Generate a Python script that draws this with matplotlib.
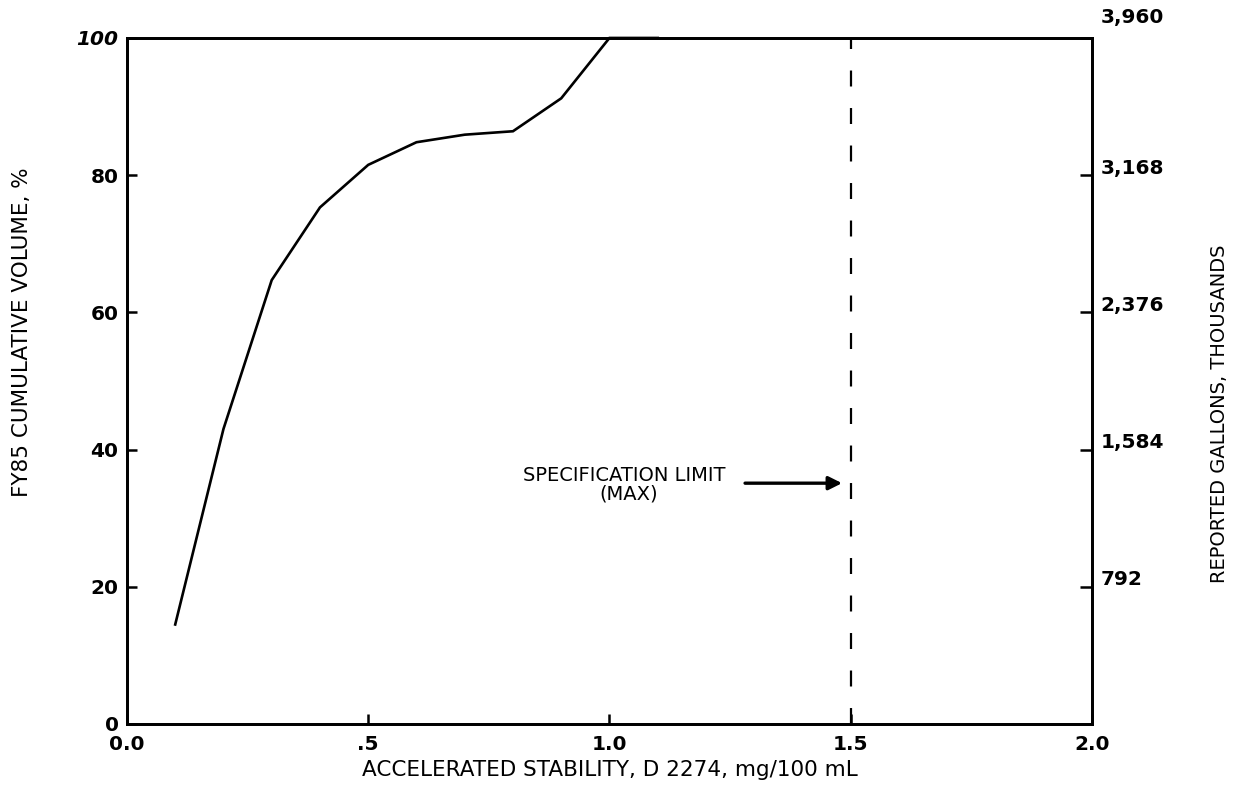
import matplotlib
matplotlib.use("Agg")
import matplotlib.pyplot as plt
import matplotlib.transforms as mtransforms

# ---- data ----
stability = [0.1, 0.2, 0.3, 0.4, 0.5, 0.6, 0.7, 0.8, 0.9, 1.0, 1.1]
cum_volume_pct = [14.5, 43.0, 64.7, 75.3, 81.5, 84.8, 85.9, 86.4, 91.2, 100.0, 100.0]
spec_limit = 1.5
left_ticks = [0, 20, 40, 60, 80, 100]
right_ticks = [792, 1584, 2376, 3168, 3960]
right_max = 3960
x_ticks = [0.0, 0.5, 1.0, 1.5, 2.0]
x_ticklabels = ["0.0", ".5", "1.0", "1.5", "2.0"]

plt.rcParams['font.family'] = ['DejaVu Sans']

fig = plt.figure(figsize=(12.35, 7.94), dpi=100)
ax = fig.add_axes([0.1028, 0.0882, 0.7814, 0.8640])

ax.plot(stability, cum_volume_pct, color='black', lw=1.9, clip_on=False,
        solid_joinstyle='miter')
lw_d = 1.6
ax.axvline(spec_limit, color='black', lw=lw_d,
           linestyle=(0, (11.5 / lw_d, 15.5 / lw_d)))

ax.set_xlim(0, 2.0)
ax.set_ylim(0, 100)
ax.set_xticks(x_ticks)
ax.set_xticklabels(x_ticklabels, fontweight='bold')
ax.set_yticks(left_ticks)
ax.set_yticklabels([str(t) for t in left_ticks], fontweight='bold')
ylabs = ax.get_yticklabels()
ylabs[-1].set_style('italic')
ylabs[-1].set_transform(ylabs[-1].get_transform() +
                        mtransforms.ScaledTranslation(0, 5 / 72, fig.dpi_scale_trans))
ylabs[0].set_transform(ylabs[0].get_transform() +
                       mtransforms.ScaledTranslation(0, 4 / 72, fig.dpi_scale_trans))

for s in ax.spines.values():
    s.set_linewidth(2.0)

ax.tick_params(axis='both', direction='in', length=7, width=1.8,
               labelsize=14.5, pad=6)
ax.tick_params(axis='x', pad=8)

ax.set_xlabel("ACCELERATED STABILITY, D 2274, mg/100 mL", fontsize=15.5, labelpad=4)
ax.set_ylabel("FY85 CUMULATIVE VOLUME, %", fontsize=15.5, labelpad=32)
ax.yaxis.label.set_y(0.571)

ax2 = ax.twinx()
ax2.set_ylim(0, right_max)
ax2.set_yticks(right_ticks)
ax2.set_yticklabels([f"{t:,}" for t in right_ticks], fontweight='bold')
ax2.tick_params(axis='y', direction='in', length=9, width=1.8,
                labelsize=14.5, pad=6)
for s in ax2.spines.values():
    s.set_linewidth(2.0)
rlabs = ax2.get_yticklabels()
for i, lab in enumerate(rlabs):
    dy = 16.5 if i == len(rlabs) - 1 else 6.5
    lab.set_transform(lab.get_transform() +
                      mtransforms.ScaledTranslation(0, dy / 72, fig.dpi_scale_trans))
ax2.set_ylabel("REPORTED GALLONS, THOUSANDS", fontsize=14, labelpad=33)
ax2.yaxis.label.set_y(0.452)

ax.text(1.03, 36.2, "SPECIFICATION LIMIT", ha='center', va='center', fontsize=14)
ax.text(1.04, 33.5, "(MAX)", ha='center', va='center', fontsize=14)
ax.annotate("", xy=(1.482, 35.1), xytext=(1.281, 35.1),
            arrowprops=dict(arrowstyle='-|>', color='black', lw=2.4,
                            mutation_scale=20, shrinkA=0, shrinkB=0))

fig.savefig("out.png", dpi=100, facecolor='white')
